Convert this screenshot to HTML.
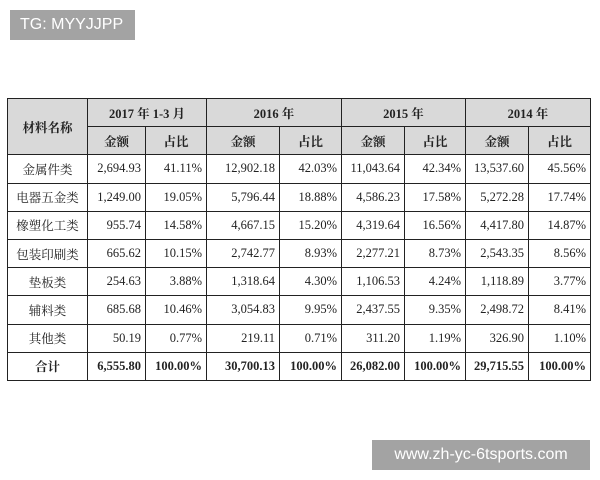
<!DOCTYPE html>
<html><head><meta charset="utf-8"><style>
body{margin:0;width:600px;height:480px;background:#fff;position:relative;overflow:hidden;font-family:"Liberation Serif","Noto Serif CJK SC",serif;}
table{position:absolute;left:7px;top:98px;border-collapse:collapse;}
td{border:1.5px solid #222;height:27.2px;padding:0 4px;font-size:12.5px;color:#222;text-align:right;}
.h td{background:#d9d9d9;font-weight:bold;text-align:center;}
td.n{text-align:center;}
.t td{font-weight:bold;}
.box{position:absolute;background:#a3a3a3;color:#fff;font-family:"Liberation Sans",sans-serif;}
</style></head><body>
<div class="box" style="left:10px;top:10px;width:125px;height:30px;font-size:16px;line-height:30px;padding-left:0;text-indent:10px">TG: MYYJJPP</div>
<table>
<colgroup><col style="width:80px"><col style="width:58px"><col style="width:61px"><col style="width:73px"><col style="width:62px"><col style="width:63px"><col style="width:61px"><col style="width:63px"><col style="width:62px"></colgroup>
<tr class="h"><td rowspan="2">材料名称</td><td colspan="2">2017 年 1-3 月</td><td colspan="2">2016 年</td><td colspan="2">2015 年</td><td colspan="2">2014 年</td></tr>
<tr class="h"><td>金额</td><td>占比</td><td>金额</td><td>占比</td><td>金额</td><td>占比</td><td>金额</td><td>占比</td></tr>
<tr><td class="n">金属件类</td><td>2,694.93</td><td>41.11%</td><td>12,902.18</td><td>42.03%</td><td>11,043.64</td><td>42.34%</td><td>13,537.60</td><td>45.56%</td></tr>
<tr><td class="n">电器五金类</td><td>1,249.00</td><td>19.05%</td><td>5,796.44</td><td>18.88%</td><td>4,586.23</td><td>17.58%</td><td>5,272.28</td><td>17.74%</td></tr>
<tr><td class="n">橡塑化工类</td><td>955.74</td><td>14.58%</td><td>4,667.15</td><td>15.20%</td><td>4,319.64</td><td>16.56%</td><td>4,417.80</td><td>14.87%</td></tr>
<tr><td class="n">包装印刷类</td><td>665.62</td><td>10.15%</td><td>2,742.77</td><td>8.93%</td><td>2,277.21</td><td>8.73%</td><td>2,543.35</td><td>8.56%</td></tr>
<tr><td class="n">垫板类</td><td>254.63</td><td>3.88%</td><td>1,318.64</td><td>4.30%</td><td>1,106.53</td><td>4.24%</td><td>1,118.89</td><td>3.77%</td></tr>
<tr><td class="n">辅料类</td><td>685.68</td><td>10.46%</td><td>3,054.83</td><td>9.95%</td><td>2,437.55</td><td>9.35%</td><td>2,498.72</td><td>8.41%</td></tr>
<tr><td class="n">其他类</td><td>50.19</td><td>0.77%</td><td>219.11</td><td>0.71%</td><td>311.20</td><td>1.19%</td><td>326.90</td><td>1.10%</td></tr>
<tr class="t"><td class="n">合计</td><td>6,555.80</td><td>100.00%</td><td>30,700.13</td><td>100.00%</td><td>26,082.00</td><td>100.00%</td><td>29,715.55</td><td>100.00%</td></tr>
</table>
<div class="box" style="left:372px;top:440px;width:218px;height:30px;font-size:16px;line-height:30px;text-align:center">www.zh-yc-6tsports.com</div>
</body></html>
